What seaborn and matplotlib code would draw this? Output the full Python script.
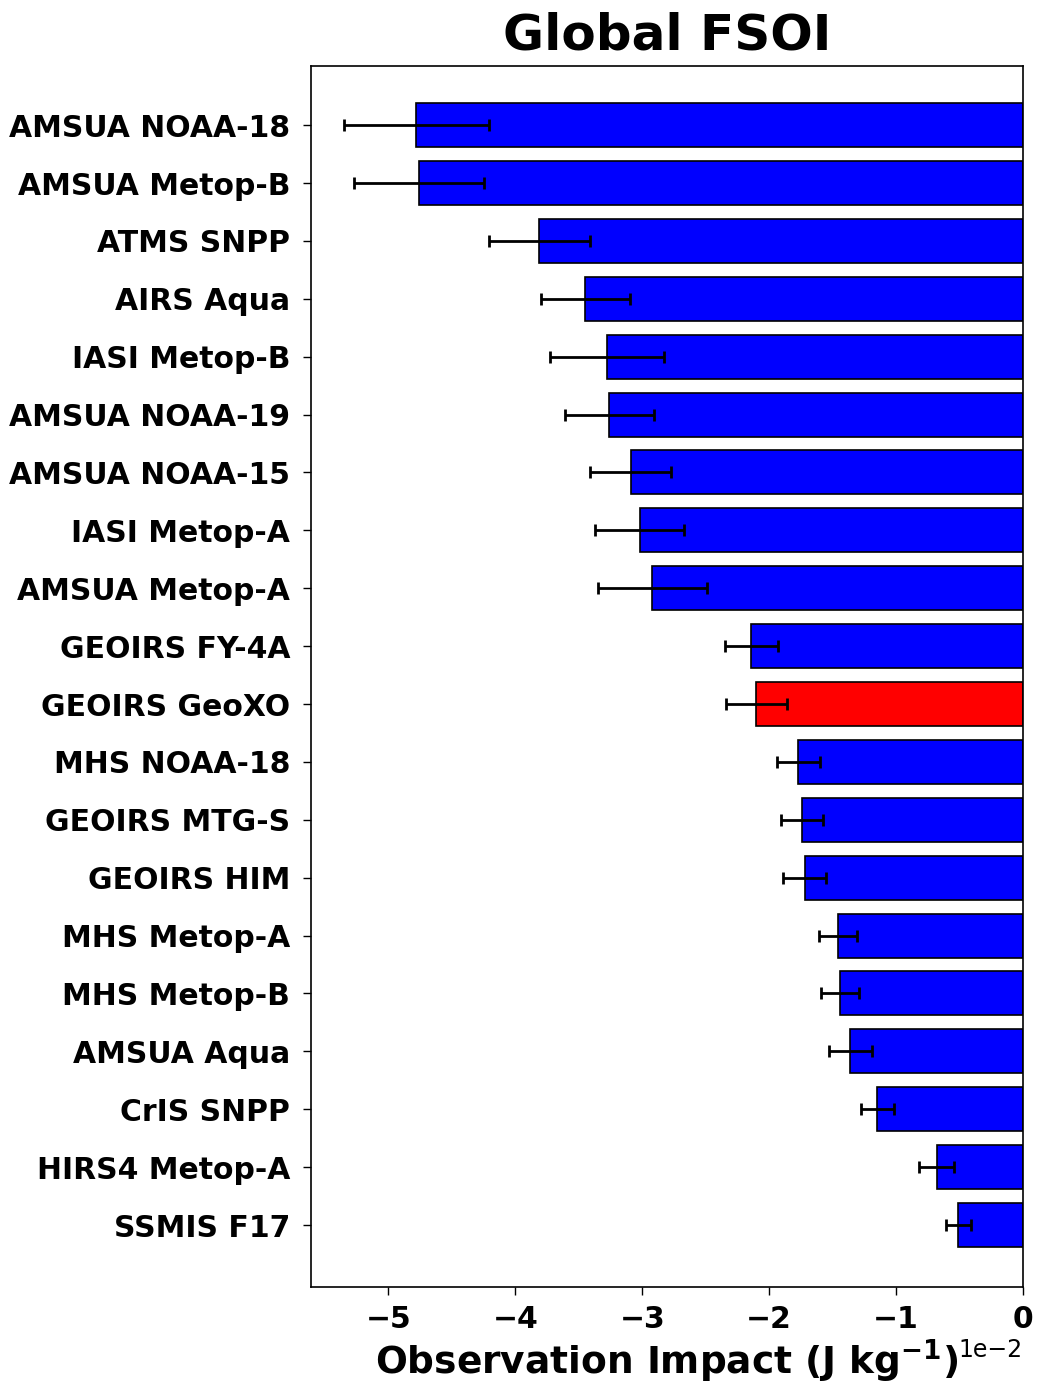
import matplotlib
matplotlib.use("Agg")
import matplotlib.pyplot as plt
import seaborn as sns
import numpy as np
import pandas as pd

sns.set_style("ticks", {"axes.edgecolor": "black", "xtick.color": "black",
                        "ytick.color": "black", "text.color": "black",
                        "axes.labelcolor": "black"})
plt.rcParams['font.family'] = ['DejaVu Sans']

labels = ["AMSUA NOAA-18", "AMSUA Metop-B", "ATMS SNPP", "AIRS Aqua", "IASI Metop-B",
          "AMSUA NOAA-19", "AMSUA NOAA-15", "IASI Metop-A", "AMSUA Metop-A", "GEOIRS FY-4A",
          "GEOIRS GeoXO", "MHS NOAA-18", "GEOIRS MTG-S", "GEOIRS HIM", "MHS Metop-A",
          "MHS Metop-B", "AMSUA Aqua", "CrIS SNPP", "HIRS4 Metop-A", "SSMIS F17"]
impact = [-4.78, -4.76, -3.81, -3.45, -3.28, -3.26, -3.09, -3.02, -2.92, -2.14,
          -2.10, -1.77, -1.74, -1.72, -1.46, -1.44, -1.36, -1.15, -0.68, -0.51]
err = [0.57, 0.51, 0.40, 0.35, 0.45, 0.35, 0.32, 0.35, 0.43, 0.21,
       0.24, 0.17, 0.165, 0.17, 0.15, 0.15, 0.17, 0.13, 0.14, 0.10]
highlight = "GEOIRS GeoXO"

scale = 1e-2
df = pd.DataFrame({"label": labels, "impact": np.array(impact) * scale,
                   "err": np.array(err) * scale})
df["group"] = ["new" if l == highlight else "old" for l in labels]

fig = plt.figure(figsize=(10.38, 13.85), dpi=100)
ax = fig.add_axes([0.2996, 0.0708, 0.6859, 0.8815])

sns.barplot(data=df, x="impact", y="label", hue="group", orient="h",
            palette={"old": "blue", "new": "red"}, dodge=False, legend=False,
            width=0.76, edgecolor="black", linewidth=1.2, ax=ax, errorbar=None,
            saturation=1)
ypos = np.arange(len(labels))
ax.errorbar(df["impact"], ypos, xerr=df["err"], fmt="none", ecolor="black",
            elinewidth=2, capsize=4, capthick=2)

ax.set_xlim(-5.61e-2, 0)
ax.set_ylim(20.07, -1.02)
ax.ticklabel_format(axis="x", style="sci", scilimits=(0, 0))
ax.xaxis.get_offset_text().set_fontsize(17)
ax.set_ylabel("")
ax.set_xlabel(r"Observation Impact (J kg$^{\mathbf{-1}}$)", fontsize=27, fontweight="bold",
              labelpad=2)
ax.set_title("Global FSOI", fontsize=36, fontweight="bold", pad=12)
for t in ax.get_xticklabels() + ax.get_yticklabels():
    t.set_fontweight("bold")
ax.tick_params(axis="y", labelsize=21.5, length=6, width=1, pad=9, colors="black")
ax.tick_params(axis="x", labelsize=21.5, length=6, width=1, pad=7, colors="black")
for s in ax.spines.values():
    s.set_visible(True)
    s.set_linewidth(1.2)
    s.set_color("black")

fig.savefig("out.png", dpi=100)
